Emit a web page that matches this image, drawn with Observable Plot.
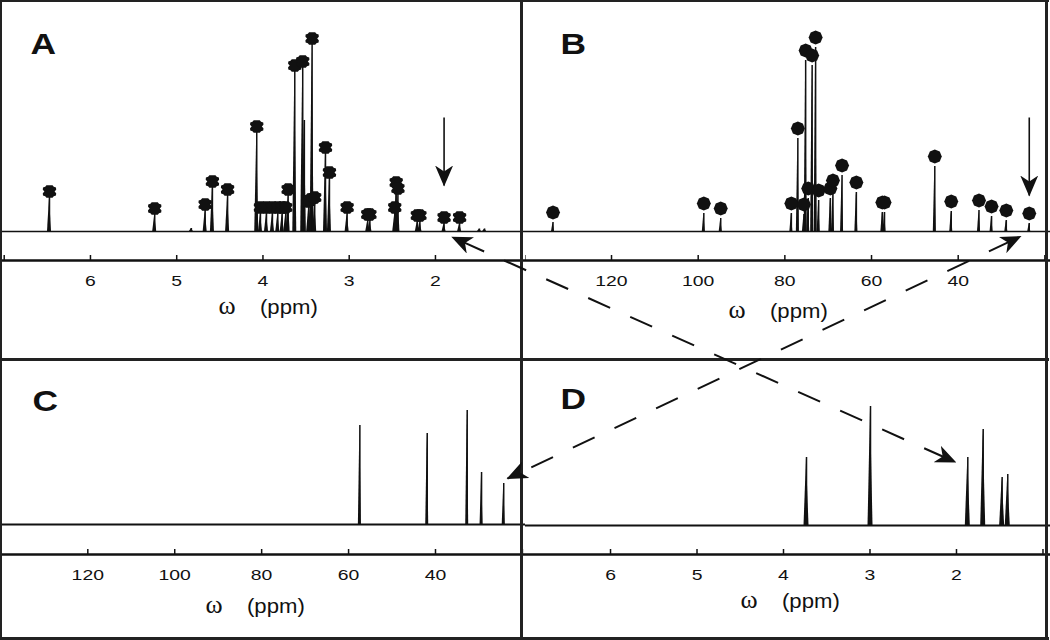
<!DOCTYPE html>
<html><head><meta charset="utf-8">
<script src="https://cdn.jsdelivr.net/npm/d3@7"></script>
<script src="https://cdn.jsdelivr.net/npm/@observablehq/plot@0.6"></script>
<style>
html,body{margin:0;padding:0;background:#fff;}
#fig{position:relative;width:1050px;height:640px;overflow:hidden;background:#fff;}
#fig svg{position:absolute;}
.bline{position:absolute;background:#222;}
</style></head><body><div id="fig"></div>
<script>
// ---------- data ----------
// Panel A: 1H spectrum (ppm, relative intensity, labelled peak flag)
const A_ppm = [6.475, 5.255, 4.83, 4.67, 4.586, 4.41, 4.072, 4.029, 3.959, 3.890, 3.828, 3.777, 3.736, 3.708, 3.631, 3.539, 3.52, 3.47, 3.45, 3.43, 3.40, 3.275, 3.229, 3.024, 2.785, 2.76, 2.472, 2.455, 2.435, 2.21, 2.18, 1.90, 1.72, 1.49, 1.43];
const A_int = [34, 17, 3, 21, 44, 36, 99, 18, 18, 18, 18, 18, 18, 36, 160, 164, 111, 24, 26, 187, 28, 78, 53, 18, 11, 11, 18, 43, 37, 10, 10, 8, 8, 2.5, 2.5];
const A_marked = [1,1,0,1,1,1,1,1,1,1,1,1,1,1,1,1,0,1,1,1,1,1,1,1,1,1,1,1,1,1,1,1,1,0,0];
// Panel B: 13C spectrum
const B_ppm = [133.5, 98.7, 94.8, 78.5, 77.0, 75.6, 75.2, 74.6, 73.7, 72.9, 72.2, 69.5, 68.9, 66.8, 63.5, 57.5, 57.0, 45.4, 41.6, 35.2, 32.3, 28.9, 23.6];
const B_int = [9, 18, 13, 18, 93, 17, 171, 33, 166, 184, 31, 33, 41, 56, 39, 19, 19, 65, 20, 21, 15, 11, 8];
const B_marked = B_ppm.map(() => 1);
// Panel C: 13C spectrum
const C_ppm = [57.4, 41.9, 32.7, 29.4, 24.3];
const C_int = [99, 91, 114, 52, 41];
// Panel D: 1H spectrum
const D_ppm = [3.734, 2.994, 1.869, 1.691, 1.472, 1.407];
const D_int = [68, 119, 68, 96, 48, 51];
// axis ticks
const H_ticks = [7, 6, 5, 4, 3, 2, 1];
const H_labels = [6, 5, 4, 3, 2];
const Cb_ticks = [140, 120, 100, 80, 60, 40, 20];
const Cb_labels = [120, 100, 80, 60, 40];
// solid arrows inside panels (ppm, from intensity, to intensity)
const vArrowPanel = ["A", "B"];
const vArrowX = [1.90, 23.6];
const vArrowFrom = [114, 114];
const vArrowTo = [46, 36];
// dashed arrows between panels
const xFromPanel = ["A", "B"], xFromPpm = [1.806, 25.6], xFromInt = [-5.7, -5];
const xToPanel = ["D", "C"], xToPpm = [2.012, 23.43], xToInt = [63.3, 46];

// ---------- drawing ----------
const ink = "#111";
const symA = {draw(ctx, size) {
  const k = Math.sqrt(size / Math.PI) / 6.5;
  const p = [[-3,-6.2],[3,-6.2],[4.2,-4.8],[6.4,-4],[6.6,-1.8],[5,0],[6.6,1.8],[6.4,4],[4.2,4.8],[3,6.2],[-3,6.2],[-4.2,4.8],[-6.4,4],[-6.6,1.8],[-5,0],[-6.6,-1.8],[-6.4,-4],[-4.2,-4.8]];
  p.forEach(([x, y], i) => i ? ctx.lineTo(x * k, y * k) : ctx.moveTo(x * k, y * k));
  ctx.closePath();
}};
const symB = {draw(ctx, size) {
  const r = Math.sqrt(size / Math.PI);
  for (let i = 0; i < 8; i++) {
    const a = i * Math.PI / 4;
    const x = r * Math.sin(a), y = -r * Math.cos(a);
    i ? ctx.lineTo(x, y) : ctx.moveTo(x, y);
  }
  ctx.closePath();
}};

const cfgs = {
  A: {ppm: A_ppm, inten: A_int, marked: A_marked, domainX: [7.043, 0.956], domainY: [-29, 231], height: 360, marginBottom: 100,
      left: 0, top: 0, letterPos: [30, 33], symbol: symA, markR: 6.6, markDy: -6, ticks: H_ticks, labels: H_labels, hwPx: 2, labelDy: 53, labelDx: 0, base: 1.7},
  B: {ppm: B_ppm, inten: B_int, marked: B_marked, domainX: [139.85, 18.7], domainY: [-29, 231], height: 360, marginBottom: 100,
      left: 525, top: 0, letterPos: [35, 33], symbol: symB, markR: 7, markDy: -10, ticks: Cb_ticks, labels: Cb_labels, hwPx: 1.5, labelDy: 57, labelDx: -15, base: 1.7},
  C: {ppm: C_ppm, inten: C_int, marked: null, domainX: [140.09, 19.29], domainY: [-30, 164], height: 280, marginBottom: 86,
      left: 0, top: 360, letterPos: [32, 30], symbol: null, ticks: Cb_ticks, labels: Cb_labels, hwPx: 1.5, labelDy: 58, labelDx: -13, base: 2.1},
  D: {ppm: D_ppm, inten: D_int, marked: null, domainX: [6.983, 0.913], domainY: [-29, 165], height: 280, marginBottom: 86,
      left: 525, top: 360, letterPos: [35, 28], symbol: null, ticks: H_ticks, labels: H_labels, hwPx: 2.5, labelDy: 53.5, labelDx: -3, base: 2.1}
};

function makePanel(name, c) {
  const width = 525;
  const frameH = c.height - c.marginBottom;
  const hw = c.hwPx * Math.abs(c.domainX[0] - c.domainX[1]) / width;
  const peaks = c.ppm.map((p, i) => ({x: p, y: c.inten[i], m: c.marked ? c.marked[i] : 0}));
  const tri = peaks.flatMap((d, i) => [{id: i, x: d.x + hw, y: 0}, {id: i, x: d.x, y: d.y}, {id: i, x: d.x - hw, y: 0}]);
  const marks = [
    Plot.ruleY([0], {stroke: ink, strokeWidth: c.base}),
    Plot.areaY(tri, {x: "x", y1: 0, y2: "y", z: "id", fill: ink}),
    Plot.ruleX(peaks, {x: "x", y1: 0, y2: "y", stroke: ink, strokeWidth: 1.5})
  ];
  if (c.symbol) marks.push(Plot.dot(peaks.filter(d => d.m), {x: "x", y: "y", dy: c.markDy, r: c.markR, symbol: c.symbol, fill: ink, stroke: "none"}));
  const va = vArrowPanel.map((p, i) => ({p, x: vArrowX[i], y1: vArrowFrom[i], y2: vArrowTo[i]})).filter(d => d.p === name);
  if (va.length) marks.push(Plot.link(va, {x1: "x", x2: "x", y1: "y1", y2: "y2", stroke: ink, strokeWidth: 1.6}));
  marks.push(
    Plot.ruleY([c.domainY[0]], {stroke: ink, strokeWidth: 2.4}),
    Plot.tickX(c.ticks, {x: d => d, insetTop: frameH - 5, stroke: ink, strokeWidth: 1.5}),
    Plot.axisX(c.labels, {tickSize: 0, tickPadding: 14, fontSize: 15.5, label: null, fill: ink}),
    Plot.text([name], {text: d => d, frameAnchor: "top-left", dx: c.letterPos[0], dy: c.letterPos[1], lineAnchor: "top", textAnchor: "start",
      fontSize: 29, fontWeight: "bold", fontFamily: "Liberation Sans, Arial, sans-serif", fill: ink}),
    Plot.text(["ω"], {text: d => d, frameAnchor: "bottom", dx: c.labelDx - 27.5, dy: c.labelDy, lineAnchor: "bottom", textAnchor: "end",
      fontSize: 26, fontFamily: "Liberation Serif, serif", fill: ink}),
    Plot.text(["(ppm)"], {text: d => d, frameAnchor: "bottom", dx: c.labelDx - 3, dy: c.labelDy, lineAnchor: "bottom", textAnchor: "start",
      fontSize: 20.5, fontFamily: "Liberation Sans, Arial, sans-serif", fill: ink})
  );
  const svg = Plot.plot({
    width, height: c.height, marginTop: 0, marginLeft: 0, marginRight: 0, marginBottom: c.marginBottom,
    x: {domain: c.domainX, label: null},
    y: {domain: c.domainY, axis: null},
    style: {fontFamily: "Liberation Sans, Arial, sans-serif", color: ink, background: "transparent"},
    marks
  });
  svg.style.left = c.left + "px";
  svg.style.top = c.top + "px";
  return svg;
}

function addArrowMarker(svg, id) {
  const defs = d3.select(svg).insert("defs", ":first-child");
  defs.append("marker").attr("id", id).attr("viewBox", "0 0 21 18").attr("refX", 20).attr("refY", 9)
    .attr("markerWidth", 21).attr("markerHeight", 18).attr("markerUnits", "userSpaceOnUse").attr("orient", "auto-start-reverse")
    .append("path").attr("d", "M0,0 L21,9 L0,18 L6,9 Z").attr("fill", ink).attr("stroke", "none");
}
function stretch(el, s, mode) {
  const b = el.getBBox();
  const ox = mode === "left" ? b.x : b.x + b.width / 2;
  const t = el.getAttribute("transform") || "";
  el.setAttribute("transform", `${t} translate(${ox},0) scale(${s},1) translate(${-ox},0)`);
}

const fig = document.getElementById("fig");
const plots = {};
for (const [name, c] of Object.entries(cfgs)) {
  const svg = makePanel(name, c);
  fig.appendChild(svg);
  plots[name] = svg;
  addArrowMarker(svg, "ah-" + name);
  svg.querySelectorAll('g[aria-label="link"] path').forEach(p => p.setAttribute("marker-end", `url(#ah-${name})`));
  svg.querySelectorAll('g[aria-label="x-axis tick label"] text').forEach(t => stretch(t, 1.25, "center"));
  svg.querySelectorAll('text').forEach(t => {
    const s = t.textContent;
    if (/^[ABCD]$/.test(s)) stretch(t, 1.22, "left");
    else if (s === "(ppm)") stretch(t, 1.08, "left");
  });
}

// panel borders
[[0, 0, 1049, 2], [0, 0, 2, 640], [0, 637, 1049, 3], [1045, 0, 3, 640], [520, 0, 3, 640], [0, 358, 1049, 3]].forEach(([l, t, w, h]) => {
  const d = document.createElement("div");
  d.className = "bline";
  Object.assign(d.style, {left: l + "px", top: t + "px", width: w + "px", height: h + "px"});
  fig.appendChild(d);
});

// cross-panel dashed arrows, positioned through each panel's own scales
const toFig = (p, x, y) => [cfgs[p].left + plots[p].scale("x").apply(x), cfgs[p].top + plots[p].scale("y").apply(y)];
const cross = xFromPanel.map((p, i) => {
  const [x1, y1] = toFig(p, xFromPpm[i], xFromInt[i]);
  const [x2, y2] = toFig(xToPanel[i], xToPpm[i], xToInt[i]);
  return {x1, y1, x2, y2};
});
const ov = Plot.plot({
  width: 1050, height: 640, margin: 0,
  x: {type: "identity", axis: null}, y: {type: "identity", axis: null},
  style: {background: "transparent"},
  marks: [Plot.link(cross, {x1: "x1", y1: "y1", x2: "x2", y2: "y2", stroke: ink, strokeWidth: 2, strokeDasharray: "24,22", strokeDashoffset: -11})]
});
ov.style.left = "0px"; ov.style.top = "0px"; ov.style.pointerEvents = "none";
fig.appendChild(ov);
addArrowMarker(ov, "ah-ov");
ov.querySelectorAll('g[aria-label="link"] path').forEach(p => {
  p.setAttribute("marker-start", "url(#ah-ov)");
  p.setAttribute("marker-end", "url(#ah-ov)");
});
</script></body></html>
